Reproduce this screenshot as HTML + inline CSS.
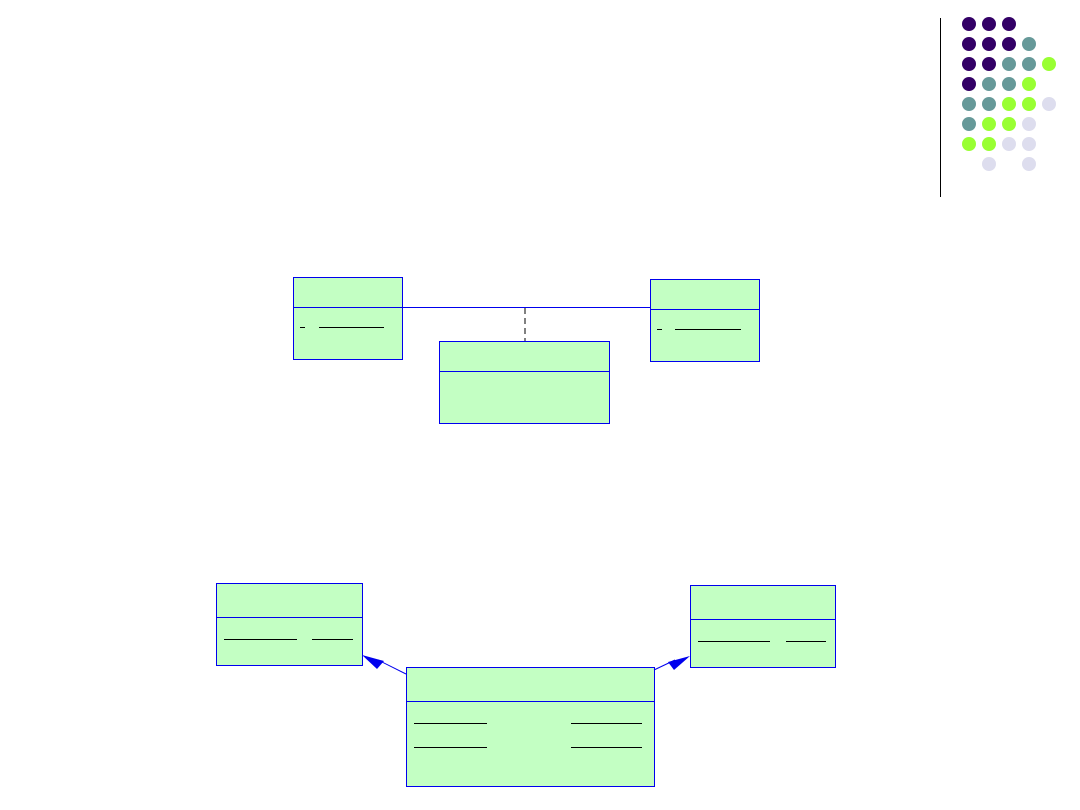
<!DOCTYPE html>
<html><head><style>body{margin:0;background:#fff}svg{display:block}</style></head><body>
<svg width="1080" height="810" viewBox="0 0 1080 810" xmlns="http://www.w3.org/2000/svg">
<line x1="940.5" y1="18" x2="940.5" y2="197" stroke="#000" stroke-width="1"/>
<g>
<circle cx="969" cy="24" r="7" fill="#330066"/><circle cx="989" cy="24" r="7" fill="#330066"/><circle cx="1009" cy="24" r="7" fill="#330066"/>
<circle cx="969" cy="44" r="7" fill="#330066"/><circle cx="989" cy="44" r="7" fill="#330066"/><circle cx="1009" cy="44" r="7" fill="#330066"/><circle cx="1029" cy="44" r="7" fill="#669999"/>
<circle cx="969" cy="64" r="7" fill="#330066"/><circle cx="989" cy="64" r="7" fill="#330066"/><circle cx="1009" cy="64" r="7" fill="#669999"/><circle cx="1029" cy="64" r="7" fill="#669999"/><circle cx="1049" cy="64" r="7" fill="#99ff33"/>
<circle cx="969" cy="84" r="7" fill="#330066"/><circle cx="989" cy="84" r="7" fill="#669999"/><circle cx="1009" cy="84" r="7" fill="#669999"/><circle cx="1029" cy="84" r="7" fill="#99ff33"/>
<circle cx="969" cy="104" r="7" fill="#669999"/><circle cx="989" cy="104" r="7" fill="#669999"/><circle cx="1009" cy="104" r="7" fill="#99ff33"/><circle cx="1029" cy="104" r="7" fill="#99ff33"/><circle cx="1049" cy="104" r="7" fill="#ddddee"/>
<circle cx="969" cy="124" r="7" fill="#669999"/><circle cx="989" cy="124" r="7" fill="#99ff33"/><circle cx="1009" cy="124" r="7" fill="#99ff33"/><circle cx="1029" cy="124" r="7" fill="#ddddee"/>
<circle cx="969" cy="144" r="7" fill="#99ff33"/><circle cx="989" cy="144" r="7" fill="#99ff33"/><circle cx="1009" cy="144" r="7" fill="#ddddee"/><circle cx="1029" cy="144" r="7" fill="#ddddee"/>
<circle cx="989" cy="164" r="7" fill="#ddddee"/><circle cx="1029" cy="164" r="7" fill="#ddddee"/>
</g>
<g fill="#c3ffc3" stroke="#0000ee" stroke-width="1">
<rect x="293.5" y="277.5" width="109" height="82"/><line x1="293" y1="307.5" x2="402" y2="307.5"/>
<rect x="650.5" y="279.5" width="109" height="82"/><line x1="650" y1="309.5" x2="759" y2="309.5"/>
<rect x="439.5" y="341.5" width="170" height="82"/><line x1="439" y1="371.5" x2="609" y2="371.5"/>
<line x1="402" y1="307.5" x2="650" y2="307.5"/>
<rect x="216.5" y="583.5" width="146" height="82"/><line x1="216" y1="617.5" x2="362" y2="617.5"/>
<rect x="690.5" y="585.5" width="145" height="82"/><line x1="690" y1="619.5" x2="835" y2="619.5"/>
<rect x="406.5" y="667.5" width="248" height="119"/><line x1="406" y1="701.5" x2="654" y2="701.5"/>
<line x1="406" y1="674" x2="378" y2="660"/>
<line x1="654" y1="670" x2="675" y2="660"/>
</g>
<line x1="525" y1="308" x2="525" y2="341" stroke="#000" stroke-dasharray="6,4"/>
<polygon points="362,655 384,661 377,669" fill="#0000ee"/>
<polygon points="690,656 668,662 674,670" fill="#0000ee"/>
<g stroke="#000" stroke-width="1">
<line x1="300" y1="327.5" x2="305" y2="327.5"/><line x1="319" y1="327.5" x2="384" y2="327.5"/>
<line x1="657" y1="329.5" x2="662" y2="329.5"/><line x1="675" y1="329.5" x2="741" y2="329.5"/>
<line x1="224" y1="639.5" x2="297" y2="639.5"/><line x1="312" y1="639.5" x2="353" y2="639.5"/>
<line x1="698" y1="641.5" x2="770" y2="641.5"/><line x1="786" y1="641.5" x2="826" y2="641.5"/>
<line x1="414" y1="723.5" x2="487" y2="723.5"/><line x1="571" y1="723.5" x2="642" y2="723.5"/>
<line x1="414" y1="747.5" x2="487" y2="747.5"/><line x1="571" y1="747.5" x2="642" y2="747.5"/>
</g>
</svg>
</body></html>
